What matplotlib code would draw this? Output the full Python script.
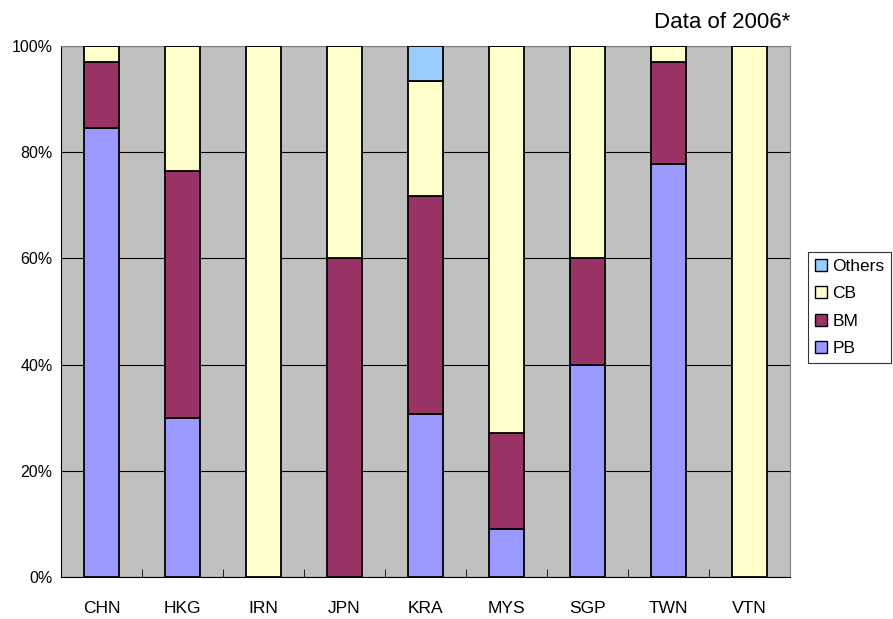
import matplotlib
matplotlib.use("Agg")
import matplotlib.pyplot as plt
import numpy as np
from matplotlib.patches import Patch

plt.rcParams['font.family'] = ['Liberation Sans', 'DejaVu Sans']

categories = ["CHN", "HKG", "IRN", "JPN", "KRA", "MYS", "SGP", "TWN", "VTN"]
PB = [84.6, 30.0, 0.0, 0.0, 30.7, 9.0, 40.0, 77.8, 0.0]
BM = [12.4, 46.5, 0.0, 60.0, 41.1, 18.1, 20.0, 19.2, 0.0]
CB = [3.0, 23.5, 100.0, 40.0, 21.6, 72.9, 40.0, 3.0, 100.0]
Others = [0.0, 0.0, 0.0, 0.0, 6.6, 0.0, 0.0, 0.0, 0.0]

series = [("PB", PB, "#9999FF"), ("BM", BM, "#993366"), ("CB", CB, "#FFFFCC"), ("Others", Others, "#99CCFF")]

W, H = 893, 619
fig = plt.figure(figsize=(W/100, H/100), dpi=100)
ax = fig.add_axes([61/W, (H-577)/H, (790-61)/W, (577-46)/H])
ax.set_facecolor("#C0C0C0")

x = np.arange(len(categories))
bottom = np.zeros(len(categories))
for name, vals, col in series:
    v = np.array(vals)
    ax.bar(x, v, bottom=bottom, width=0.42, color=col, edgecolor="black", linewidth=1.3, zorder=3)
    bottom += v

ax.set_xlim(-0.5, len(categories) - 0.5)
ax.set_ylim(0, 100)
ax.set_yticks(np.arange(0, 101, 20))
ax.set_yticklabels([f"{t}%" for t in range(0, 101, 20)], fontsize=11.5)
ax.yaxis.grid(True, color="black", linewidth=0.8, zorder=1)
ax.set_axisbelow(True)
ax.set_xticks(x)
ax.set_xticklabels(categories, fontsize=12.5)
ax.tick_params(axis='x', length=0, pad=17)
ax.set_xticks(np.arange(0.5, len(categories) - 0.5, 1), minor=True)
ax.tick_params(axis='x', which='minor', direction='in', length=6, color='black')
ax.tick_params(axis='y', length=0, pad=6)
for s in ["top", "right"]:
    ax.spines[s].set_color("#808080")
for s in ["left", "bottom"]:
    ax.spines[s].set_color("black")

handles = [Patch(facecolor=c, edgecolor="black", label=n) for n, _, c in reversed(series)]
leg = fig.legend(handles=handles, loc="upper left", bbox_to_anchor=(808/W, 1 - 252/H),
                 frameon=True, fancybox=False, edgecolor="black", fontsize=12.5,
                 handlelength=0.7, handleheight=0.7, handletextpad=0.3, labelspacing=0.7,
                 borderpad=0.4, borderaxespad=0)
leg.get_frame().set_linewidth(0.8)

fig.text(790/W, 1 - 22/H, "Data of 2006*", ha="right", va="center", fontsize=16)

fig.savefig("out.png", dpi=100)
